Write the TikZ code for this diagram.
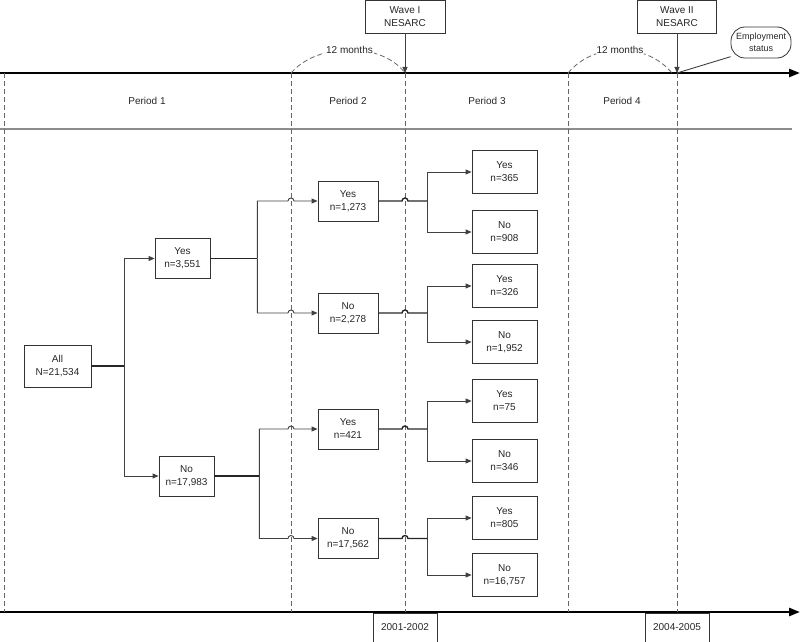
\documentclass[tikz,border=0pt]{standalone}
\usepackage{fontspec}
\setmainfont{Liberation Sans}
\usetikzlibrary{arrows.meta,calc}

\tikzset{
  box/.style={draw=black!80, line width=0.8pt, align=center, inner sep=1pt,
    font=\fontsize{10}{13}\selectfont, text=black!85},
  lvla/.style={box, minimum width=55pt, minimum height=40pt},
  lvlb/.style={box, minimum width=60pt, minimum height=40pt},
  lvlc/.style={box, minimum width=65pt, minimum height=43pt},
  lbl/.style={font=\fontsize{10}{13}\selectfont, text=black!85},
  conn/.style={draw=black!75, line width=0.9pt},
  stem/.style={draw=black!85, line width=1.4pt},
  tip/.style={-{Triangle[length=6pt,width=5pt]}},
  guide/.style={dash pattern=on 5pt off 3pt, black!60, line width=0.8pt},
  axis/.style={line width=2.4pt, -{Triangle[length=11pt,width=8pt]}},
}

\begin{document}
\begin{tikzpicture}[x=1pt, y=-1pt]
    \useasboundingbox (0,0) rectangle (800,642);

    % time axes
    \coordinate (top) at (0,73);
    \coordinate (bot) at (0,612);
    \draw[axis] (top) -- (800,73);
    \draw[axis] (bot) -- (800,612);
    \draw[black!45, line width=1.6pt] (0,129) -- (792,129);

    % period borders
    \coordinate (d1) at (4,73);
    \coordinate (d2) at (291,73);
    \coordinate (d3) at (405,73);
    \coordinate (d4) at (568,73);
    \coordinate (d5) at (677,73);
    \foreach \d in {d1,d2,d3,d4,d5}
        \draw[guide] (\d) -- (\d |- bot);

    \node[lbl] (p1) at (147,101) {Period 1};
    \node[lbl] (p2) at (348,101) {Period 2};
    \node[lbl] (p3) at (487,101) {Period 3};
    \node[lbl] (p4) at (622,101) {Period 4};

    % waves
    \node[box, minimum width=80pt, minimum height=33pt] (w1) at (405,16.5) {Wave I\\NESARC};
    \node[box, minimum width=79pt, minimum height=33pt] (w2) at (677,16.5) {Wave II\\NESARC};
    \node[box, rounded corners=14pt, minimum width=60pt, minimum height=31pt, inner sep=0pt,
        font=\fontsize{9}{11.5}\selectfont] (emp) at (761,42.5) {Employment\\status};
    \draw[conn,tip] (w1) -- (d3);
    \draw[conn,tip] (w2) -- (d5);
    \draw[conn] (emp.205) -- (d5);

    \draw[guide] (d2) .. controls (318,42) and (382,42) .. (d3)
        node[pos=0.5, fill=white, inner sep=1pt, lbl] {12 months};
    \draw[guide] (d4) .. controls (594,42) and (646,42) .. (672,73)
        node[pos=0.5, fill=white, inner sep=1pt, lbl] {12 months};

    \node[box, minimum width=64pt, minimum height=29pt] (y1) at (405,627.5) {2001-2002};
    \node[box, minimum width=64pt, minimum height=29pt] (y2) at (677,627.5) {2004-2005};

    % tree
    \node[box, minimum width=67pt, minimum height=42pt] (all) at (57.5,366) {All\\N=21,534};
    \node[lvla] (a1) at (182.5,258.5) {Yes\\n=3,551};
    \node[lvla] (a2) at (186.5,476) {No\\n=17,983};

    \node[lvlb] (b1) at (348,201) {Yes\\n=1,273};
    \node[lvlb] (b2) at (348,313) {No\\n=2,278};
    \node[lvlb] (b3) at (348,429) {Yes\\n=421};
    \node[lvlb] (b4) at (348,538.5) {No\\n=17,562};

    \node[lvlc] (c1) at (504.5,172) {Yes\\n=365};
    \node[lvlc] (c2) at (504.5,232) {No\\n=908};
    \node[lvlc] (c3) at (504.5,286) {Yes\\n=326};
    \node[lvlc] (c4) at (504.5,342) {No\\n=1,952};
    \node[lvlc] (c5) at (504.5,401) {Yes\\n=75};
    \node[lvlc] (c6) at (504.5,461) {No\\n=346};
    \node[lvlc] (c7) at (504.5,518) {Yes\\n=805};
    \node[lvlc] (c8) at (504.5,575) {No\\n=16,757};

    \draw[stem] (all.east) -- ++(33,0) coordinate (f0);
    \draw[conn,tip] (f0) |- (a1.west);
    \draw[conn,tip] (f0) |- (a2.west);

    \draw[stem] (a1.east) -- ++(47,0) coordinate (f1);
    \draw[stem] (a2.east) -- ++(45,0) coordinate (f2);
    \foreach \f/\b in {f1/b1, f1/b2, f2/b3, f2/b4}
        \draw[conn,tip] (\f) |- ($(\b.west -| d2)+(-3,0)$)
            arc[start angle=180, end angle=0, radius=3pt] -- (\b.west);

    \foreach \b/\g in {b1/g1, b2/g2, b3/g3, b4/g4}
        \draw[stem] (\b.east) -- ($(\b.east -| d3)+(-3,0)$)
            arc[start angle=180, end angle=0, radius=3pt] -- ++(19,0) coordinate (\g);
    \foreach \g/\c in {g1/c1, g1/c2, g2/c3, g2/c4, g3/c5, g3/c6, g4/c7, g4/c8}
        \draw[conn,tip] (\g) |- (\c.west);
\end{tikzpicture}
\end{document}
